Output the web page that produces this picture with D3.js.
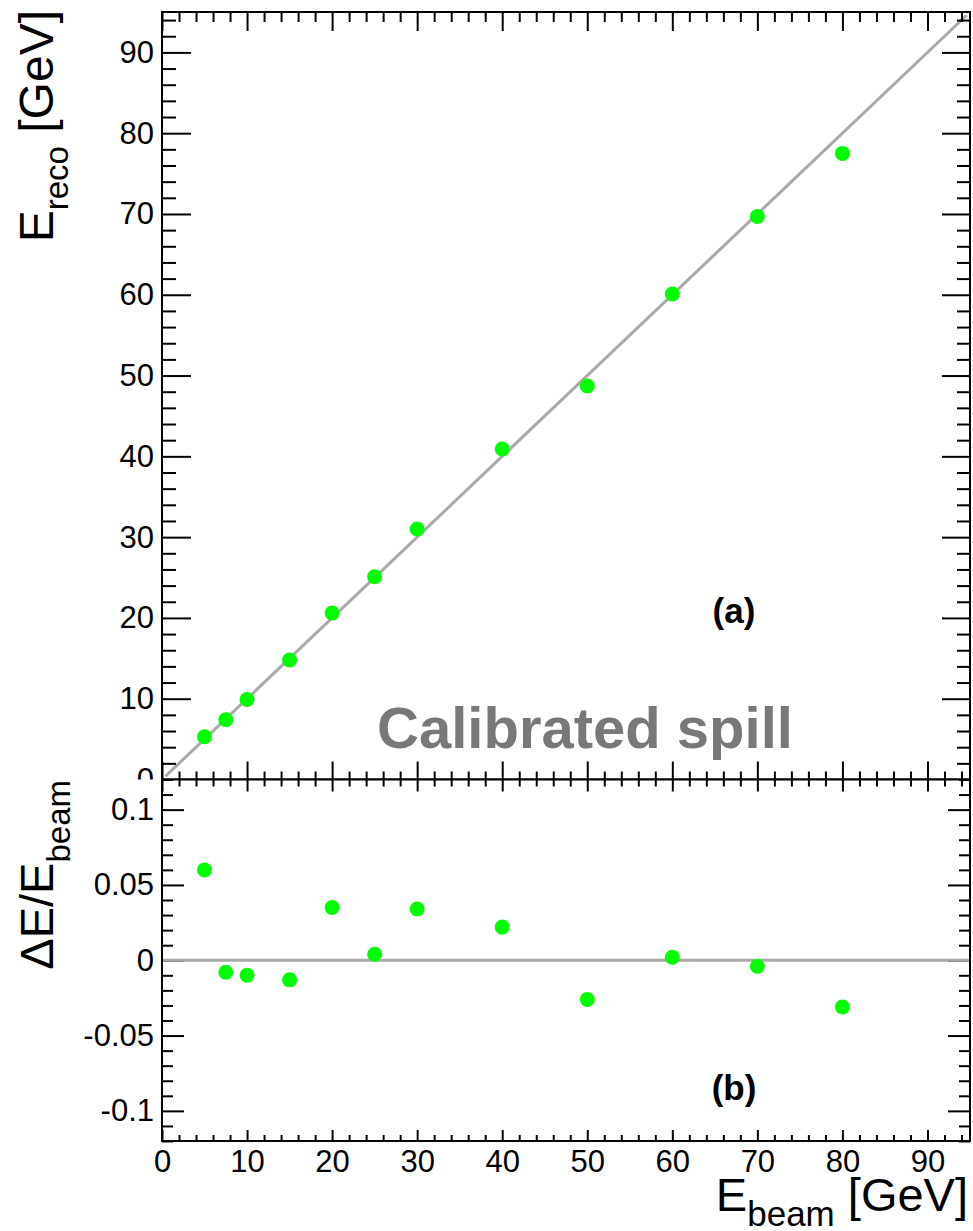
<!doctype html>
<html>
<head>
<meta charset="utf-8">
<title>Calibrated spill</title>
<style>
  body { margin:0; background:white; }
  svg { display:block; font-family:"Liberation Sans", Arial, Helvetica, sans-serif; }
  .axis path { display:none; }
  .axis line { stroke:black; stroke-width:2px; }
  .axis text { font-size:31px; fill:black; font-family:"Liberation Sans", Arial, sans-serif; }
  .frame { fill:none; stroke:black; stroke-width:2px; }
  .pt { fill:#00ff00; }
  .fit { stroke:#a9a9a9; stroke-width:3px; fill:none; }
</style>
<script src="https://d3js.org/d3.v7.min.js"></script>
</head>
<body>
<svg id="chart" width="973" height="1231"></svg>
<script>

// data
var eBeam = [5, 7.5, 10, 15, 20, 25, 30, 40, 50, 60, 70, 80]
var eReco = [5.3, 7.4, 9.9, 14.8, 20.6, 25.1, 31.0, 40.9, 48.7, 60.1, 69.7, 77.5]
var resid = [0.060, -0.008, -0.010, -0.013, 0.035, 0.004, 0.034, 0.022, -0.026, 0.002, -0.004, -0.031]

var xTicks = [0, 10, 20, 30, 40, 50, 60, 70, 80, 90]
var yTopTicks = [0, 10, 20, 30, 40, 50, 60, 70, 80, 90]
var yBotTicks = [-0.1, -0.05, 0, 0.05, 0.1]
var fitLine = [0.4, 94.6]

var svg = d3.select("#chart")

var L = 162, R = 970, T = 12, M = 779.5, B = 1141

var x = d3.scaleLinear().domain([0, 95]).range([L, R])
var yTop = d3.scaleLinear().domain([0, 95]).range([M, T])
var yBot = d3.scaleLinear().domain([-0.12, 0.12]).range([B, M])

function minors(lo, hi, step, majorStep) {
  var out = []
  for (var v = lo; v <= hi + 1e-9; v += step) {
    var r = Math.round(v / step) * step
    if (Math.abs(r / majorStep - Math.round(r / majorStep)) > 1e-6) out.push(+r.toFixed(4))
  }
  return out
}
var xMinor = minors(0, 94, 2, 10)
var yTopMinor = minors(0, 94, 2, 10)
var yBotMinor = minors(-0.12, 0.12, 0.01, 0.05)

// one axis group, ticks pointing into the frame
function ax(gen, scale, vals, size, tx, ty, fmt, pad) {
  var a = gen(scale).tickValues(vals).tickSize(size).tickPadding(pad || 8)
  a.tickFormat(fmt || "")
  var g = svg.append("g").attr("class", "axis")
    .attr("transform", "translate(" + tx + "," + ty + ")")
    .call(a)
  if (!fmt) g.selectAll("text").remove()
  return g
}

// ---------- top panel ----------
svg.append("line").attr("class", "fit")
  .attr("x1", x(fitLine[0])).attr("y1", yTop(fitLine[0]))
  .attr("x2", x(fitLine[1])).attr("y2", yTop(fitLine[1]))

svg.append("text").text("Calibrated spill")
  .attr("x", 585).attr("y", 748).attr("text-anchor", "middle")
  .style("font-size", "58px").style("font-weight", "bold").style("fill", "#787878")

svg.append("text").text("(a)")
  .attr("x", 734).attr("y", 623).attr("text-anchor", "middle")
  .style("font-size", "35px").style("font-weight", "bold")

svg.selectAll("circle.top").data(eBeam).enter().append("circle")
  .attr("class", "pt top")
  .attr("cx", function(d){ return x(d) })
  .attr("cy", function(d,i){ return yTop(eReco[i]) })
  .attr("r", 7.5)

ax(d3.axisLeft, yTop, yTopTicks, -29, L, 0, function(d){ return d })
ax(d3.axisLeft, yTop, yTopMinor, -14, L, 0)
ax(d3.axisRight, yTop, yTopTicks, -28, R, 0)
ax(d3.axisRight, yTop, yTopMinor, -13, R, 0)
ax(d3.axisTop, x, xTicks, -19, 0, T)
ax(d3.axisTop, x, xMinor, -10, 0, T)
ax(d3.axisBottom, x, xTicks, -18, 0, M)
ax(d3.axisBottom, x, xMinor, -8, 0, M)

svg.append("rect").attr("class", "frame")
  .attr("x", L).attr("y", T).attr("width", R - L).attr("height", M - T)

var yt = svg.append("text")
  .attr("transform", "translate(53,10) rotate(-90)")
  .attr("text-anchor", "end")
  .style("font-size", "48px")
yt.append("tspan").text("E")
yt.append("tspan").text("reco").attr("dy", 15).style("font-size", "33px")
yt.append("tspan").text(" [GeV]").attr("dy", -15)

// ---------- bottom panel ----------
svg.append("rect").attr("x", 0).attr("y", M).attr("width", 973).attr("height", 1231 - M)
  .attr("fill", "white")

svg.append("text").text("(b)")
  .attr("x", 734).attr("y", 1100).attr("text-anchor", "middle")
  .style("font-size", "35px").style("font-weight", "bold")

ax(d3.axisLeft, yBot, yBotTicks, -22, L, 0, function(d){ return String(+d.toFixed(2)) })
ax(d3.axisLeft, yBot, yBotMinor, -11, L, 0)
ax(d3.axisRight, yBot, yBotTicks, -22, R, 0)
ax(d3.axisRight, yBot, yBotMinor, -11, R, 0)
ax(d3.axisTop, x, xTicks, -12, 0, M)
ax(d3.axisTop, x, xMinor, -7, 0, M)
ax(d3.axisBottom, x, xTicks, -11, 0, B, function(d){ return d }, 9)
ax(d3.axisBottom, x, xMinor, -6, 0, B)

svg.append("line").attr("class", "fit")
  .attr("x1", x(0)).attr("y1", yBot(0))
  .attr("x2", x(95)).attr("y2", yBot(0))

svg.selectAll("circle.bot").data(eBeam).enter().append("circle")
  .attr("class", "pt bot")
  .attr("cx", function(d){ return x(d) })
  .attr("cy", function(d,i){ return yBot(resid[i]) })
  .attr("r", 7.5)

svg.append("rect").attr("class", "frame")
  .attr("x", L).attr("y", M).attr("width", R - L).attr("height", B - M)

var xt = svg.append("text")
  .attr("x", 968).attr("y", 1211)
  .attr("text-anchor", "end")
  .style("font-size", "47px")
xt.append("tspan").text("E")
xt.append("tspan").text("beam").attr("dy", 15).style("font-size", "35px")
xt.append("tspan").text(" [GeV]").attr("dy", -15)

var yb = svg.append("text")
  .attr("transform", "translate(53,780) rotate(-90)")
  .attr("text-anchor", "end")
  .style("font-size", "47px")
yb.append("tspan").text("\u0394E/E")
yb.append("tspan").text("beam").attr("dy", 17).style("font-size", "33px")

</script>
</body>
</html>
